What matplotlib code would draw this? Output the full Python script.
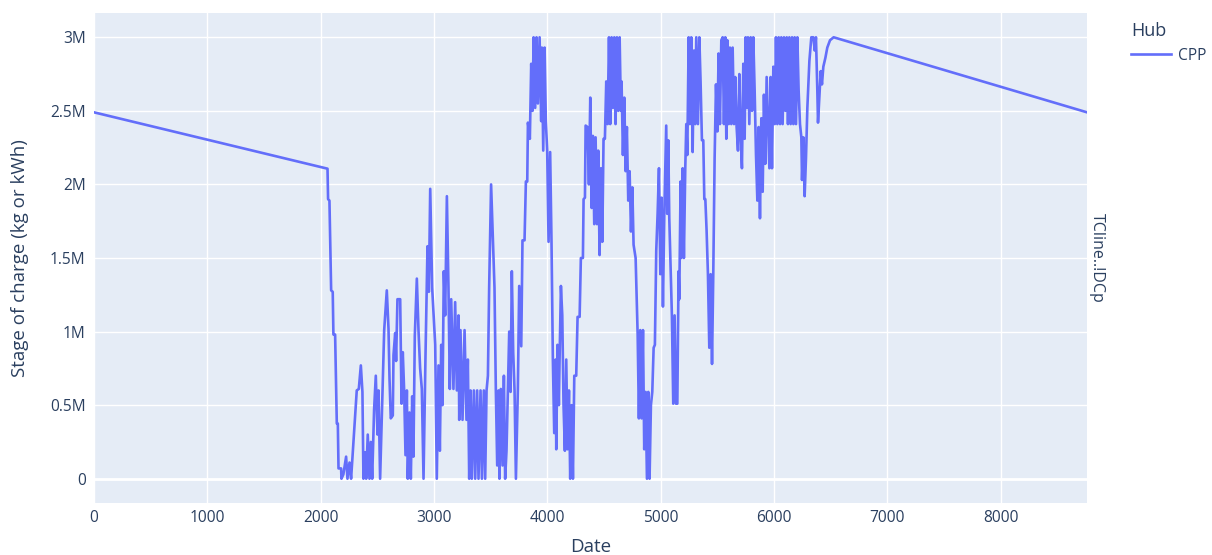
import matplotlib
matplotlib.use("Agg")
import matplotlib.pyplot as plt
from matplotlib.ticker import FuncFormatter, MultipleLocator

# Hour of year and stage of charge (millions of kg or kWh)
hours = [
    0, 2060, 2065, 2077, 2092, 2106, 2112, 2127, 2142, 2151, 2157, 2180, 2183,
    2200, 2224, 2236, 2254, 2268, 2318, 2336, 2354, 2368, 2377, 2392, 2401,
    2415, 2430, 2442, 2454, 2471, 2486, 2501, 2510, 2524, 2560, 2583, 2598,
    2607, 2618, 2636, 2642, 2657, 2665, 2677, 2701, 2713, 2724, 2736, 2748,
    2760, 2768, 2783, 2795, 2807, 2818, 2830, 2848, 2863, 2877, 2892, 2907,
    2924, 2942, 2954, 2966, 2983,
    3010, 3024, 3039, 3051, 3063, 3074, 3086, 3098, 3113, 3127, 3139, 3151,
    3171, 3186, 3201, 3216, 3222, 3233, 3251, 3269, 3286, 3298, 3310, 3322,
    3333, 3351, 3363, 3380, 3392, 3410, 3422, 3439, 3451, 3463, 3475, 3486,
    3503, 3533, 3545, 3557, 3569, 3577, 3589, 3604, 3616, 3627, 3639, 3651,
    3663, 3675, 3686, 3698, 3710, 3722, 3739, 3751, 3769, 3780, 3798, 3810,
    3822, 3828, 3845, 3857, 3869, 3878, 3892, 3904, 3916, 3931, 3945, 3951,
    3963, 3975, 3986, 3998,
    4010, 4024, 4036, 4048, 4060, 4072, 4078, 4089, 4101, 4107, 4119, 4131,
    4142, 4154, 4166, 4178, 4190, 4201, 4213, 4225, 4237, 4254, 4266, 4284,
    4295, 4313, 4319, 4331, 4337, 4354, 4366, 4378, 4390, 4401, 4413, 4425,
    4437, 4448, 4460, 4472, 4484, 4495, 4507, 4519, 4531, 4543, 4554, 4566,
    4578, 4590, 4601, 4613, 4625, 4637, 4648, 4654, 4666, 4678, 4690, 4701,
    4713, 4725, 4737, 4749, 4760, 4778, 4796, 4807, 4819, 4831, 4843, 4854,
    4866, 4878, 4890, 4901, 4913, 4925, 4937, 4948, 4960, 4972, 4984, 4996,
    5007, 5019, 5031,
    5048, 5057, 5066, 5075, 5084, 5098, 5110, 5122, 5134, 5146, 5157, 5163,
    5175, 5181, 5193, 5204, 5216, 5225, 5234, 5246, 5257, 5269, 5281, 5293,
    5304, 5313, 5328, 5340, 5351, 5363, 5375, 5384, 5393, 5404, 5416, 5428,
    5440, 5452, 5463, 5475, 5487, 5499, 5510, 5522, 5534, 5546, 5557, 5569,
    5578, 5587, 5599, 5610, 5622, 5634, 5646, 5657, 5669, 5681, 5693, 5704,
    5716, 5728, 5740, 5749, 5760, 5769, 5781, 5793, 5805, 5816, 5828, 5840,
    5852, 5863, 5875, 5887, 5899, 5910, 5922, 5934, 5946, 5958, 5969, 5981,
    5993, 6005, 6016, 6028, 6040, 6052, 6063, 6075, 6087, 6099, 6111, 6122,
    6134, 6146, 6158, 6170, 6181, 6193, 6205, 6216, 6228, 6240, 6246, 6258,
    6269, 6281, 6293, 6311, 6328, 6346, 6358, 6369, 6381, 6387, 6399, 6411,
    6422, 6434, 6452, 6469, 6493, 6525, 8760,
]
soc_m = [
    2.49, 2.107, 1.90, 1.89, 1.28, 1.27, 0.98, 0.98, 0.375, 0.375, 0.07, 0.07, 0.0,
    0.03, 0.15, 0.0, 0.11, 0.0, 0.60, 0.61, 0.77, 0.59, 0.0, 0.18, 0.0,
    0.30, 0.0, 0.25, 0.0, 0.47, 0.70, 0.30, 0.60, 0.0, 1.01, 1.28, 1.02,
    0.68, 0.41, 0.43, 0.84, 0.99, 0.80, 1.22, 1.22, 0.51, 0.86, 0.60, 0.16,
    0.60, 0.0, 0.45, 0.0, 0.56, 0.15, 0.97, 1.36, 1.00, 0.75, 0.61, 0.0,
    0.82, 1.58, 1.27, 1.97, 1.30,
    0.91, 0.0, 0.77, 0.19, 0.91, 0.50, 1.41, 1.11, 1.92, 1.30, 0.61, 1.22,
    0.61, 1.20, 0.60, 1.11, 0.40, 1.01, 0.40, 1.01, 0.40, 0.81, 0.0, 0.60,
    0.0, 0.60, 0.0, 0.60, 0.0, 0.60, 0.0, 0.60, 0.0, 0.60, 0.70, 1.30,
    2.0, 1.30, 0.60, 0.09, 0.60, 0.0, 0.61, 0.09, 0.70, 0.0, 0.19, 0.60,
    1.0, 0.59, 1.41, 0.86, 0.60, 0.0, 0.60, 1.31, 0.90, 1.62, 1.62, 2.02,
    2.02, 2.42, 2.31, 2.82, 2.50, 3.0, 2.52, 3.0, 2.55, 3.0, 2.43, 2.93,
    2.23, 2.93, 2.43, 2.23,
    1.61, 2.22, 1.61, 0.81, 0.31, 0.81, 0.20, 0.91, 0.50, 0.80, 1.31, 1.11,
    0.50, 0.19, 0.81, 0.20, 0.60, 0.0, 0.50, 0.0, 0.70, 0.70, 1.10, 1.10,
    1.50, 1.50, 1.90, 1.91, 2.40, 2.39, 2.0, 2.59, 1.84, 2.33, 1.73, 2.32,
    1.73, 2.23, 1.52, 2.11, 1.61, 2.31, 2.31, 2.70, 2.41, 3.0, 2.41, 3.0,
    2.52, 3.0, 2.41, 3.0, 2.50, 3.0, 2.50, 2.70, 2.20, 2.59, 2.09, 2.39,
    1.89, 2.09, 1.68, 1.98, 1.59, 1.50, 0.98, 0.41, 1.01, 0.41, 1.01, 0.20,
    0.59, 0.0, 0.59, 0.0, 0.50, 0.59, 0.89, 0.91, 1.55, 1.80, 2.11, 1.39,
    1.91, 1.17, 1.80,
    2.40, 1.80, 2.30, 1.77, 1.52, 1.11, 0.51, 1.11, 0.51, 0.51, 1.41, 1.22,
    2.02, 1.50, 2.11, 1.50, 2.11, 2.41, 2.20, 3.0, 2.41, 3.0, 2.22, 2.91,
    2.41, 3.0, 2.41, 3.0, 2.70, 2.30, 2.30, 1.90, 1.90, 1.69, 1.39, 0.89,
    1.39, 0.78, 1.39, 2.18, 2.68, 2.36, 2.89, 2.41, 2.98, 3.0, 2.41, 3.0,
    2.31, 2.98, 2.41, 2.93, 2.41, 2.93, 2.41, 2.73, 2.39, 2.23, 2.75, 2.34,
    2.11, 2.82, 2.31, 3.0, 2.52, 3.0, 2.41, 3.0, 2.50, 3.0, 2.64, 2.20,
    1.89, 2.39, 1.77, 2.45, 1.95, 2.61, 2.14, 2.73, 2.41, 2.11, 2.73, 2.11,
    2.80, 2.41, 3.0, 2.41, 3.0, 2.41, 3.0, 2.41, 3.0, 2.50, 3.0, 2.41,
    3.0, 2.41, 3.0, 2.41, 3.0, 2.41, 3.0, 2.64, 2.41, 2.32, 2.03, 2.32,
    1.92, 2.18, 2.52, 2.84, 3.0, 3.0, 2.91, 3.0, 2.64, 2.42, 2.59, 2.77,
    2.68, 2.80, 2.86, 2.93, 2.98, 3.0, 2.49,
]
soc = [v * 1e6 for v in soc_m]

hub = "CPP"
facet_label = "TCline..!DCp"

TEXT = "#2a3f5f"
plt.rcParams["font.family"] = ["Open Sans", "DejaVu Sans"]

fig = plt.figure(figsize=(12.12, 5.55), dpi=100)
ax = fig.add_axes([94 / 1212, 1 - 503 / 555, (1087 - 94) / 1212, (503 - 13) / 555])
ax.set_facecolor("#E5ECF6")

ax.plot(hours, soc, color="#636EFA", linewidth=1.9, label=hub, zorder=3)

ax.set_xlim(0, 8760)
ax.set_ylim(-0.165e6, 3.165e6)
ax.xaxis.set_major_locator(MultipleLocator(1000))
ax.yaxis.set_major_locator(MultipleLocator(0.5e6))
ax.yaxis.set_major_formatter(FuncFormatter(lambda v, p: "0" if v == 0 else f"{v / 1e6:g}M"))

ax.grid(True, color="white", linewidth=1.0)
ax.axhline(0, color="white", linewidth=2.0, zorder=2)
ax.set_axisbelow(True)
for s in ax.spines.values():
    s.set_visible(False)
ax.tick_params(length=0, labelsize=11.2, colors=TEXT)
ax.tick_params(axis="y", pad=6)
ax.tick_params(axis="x", pad=5)

ax.set_xlabel("Date", fontsize=13.5, color=TEXT, labelpad=9)
ax.set_ylabel("Stage of charge (kg or kWh)", fontsize=13.5, color=TEXT, labelpad=15)

fig.text(1097 / 1212, 1 - 258 / 555, facet_label, rotation=-90, ha="center", va="center",
         fontsize=11.5, color=TEXT)

leg = ax.legend(title="Hub", loc="upper left", bbox_to_anchor=(1117 / 1212, 1 - 8 / 555),
                bbox_transform=fig.transFigure, frameon=False, fontsize=11.2,
                title_fontsize=13, handlelength=2.6, handletextpad=0.4, alignment="left")
leg.get_title().set_color(TEXT)
for t in leg.get_texts():
    t.set_color(TEXT)

fig.savefig("out.png", dpi=100)
